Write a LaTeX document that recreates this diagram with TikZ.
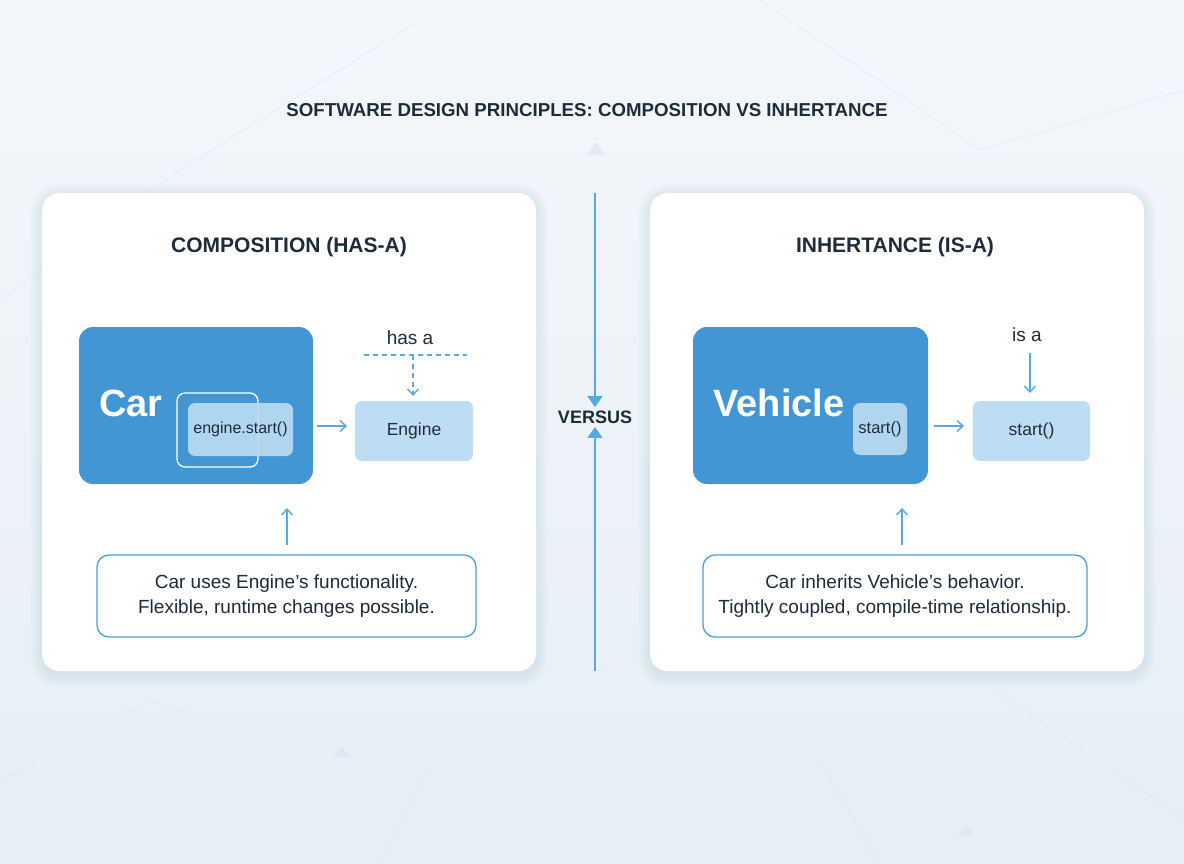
\documentclass[tikz,border=0pt]{standalone}
\usepackage{fontspec}
\setmainfont{Liberation Sans}
\usetikzlibrary{arrows.meta}
\definecolor{bgA}{HTML}{F4F7FA}
\definecolor{bgB}{HTML}{E6EEF6}
\definecolor{ink}{HTML}{1E2B3A}
\definecolor{mainblue}{HTML}{4296D3}
\definecolor{lightbox}{HTML}{BCDDF3}
\definecolor{arrowblue}{HTML}{5AA8E0}
\definecolor{edgeblue}{HTML}{4A9FE0}
\definecolor{deco}{HTML}{DCE6F0}
\definecolor{shadowc}{HTML}{8A9BB0}
\tikzset{
  panel/.style={draw=none, fill=white, rounded corners=18pt},
  bigbox/.style={draw=none, fill=mainblue, rounded corners=14pt},
  lbox/.style={draw=none, fill=lightbox, rounded corners=7pt, text=ink, font=\fontsize{17.5}{20}\selectfont},
  ibox/.style={draw=none, fill=lightbox, fill opacity=0.9, text opacity=1, rounded corners=7pt, text=ink, font=\fontsize{16}{19}\selectfont},
  capbox/.style={draw=edgeblue, line width=1.3pt, fill=white, rounded corners=12pt, text=ink, align=center, font=\fontsize{19}{25}\selectfont},
  conn/.style={draw=arrowblue, line width=1.4pt, -{Straight Barb[length=6pt,width=11pt,line width=1.4pt]}},
  vsconn/.style={draw=arrowblue, line width=1.6pt, -{Triangle[length=11pt,width=15pt]}},
  heading/.style={text=ink, font=\fontsize{21}{24}\selectfont\bfseries},
  biglabel/.style={text=white, font=\fontsize{38}{44}\selectfont\bfseries},
  small/.style={text=ink, font=\fontsize{19}{22}\selectfont},
  decoline/.style={draw=deco, line width=0.8pt, opacity=0.55},
}
\begin{document}
\begin{tikzpicture}[x=1pt,y=-1pt]
\useasboundingbox (0,0) rectangle (1184,864);
% background
\shade[top color=bgA, bottom color=bgB] (0,0) rectangle (1184,864);
\draw[decoline] (0,300) -- (180,170) -- (420,20);
\draw[decoline] (760,0) -- (980,150) -- (1184,90);
\draw[decoline] (0,780) -- (150,700) -- (330,760);
\draw[decoline] (980,680) -- (1184,820);
\draw[decoline] (430,762) -- (820,762) -- (880,864);
\draw[decoline] (430,762) -- (380,864);
\fill[deco, opacity=0.7] (596,142) -- (606,155) -- (586,155) -- cycle;
\fill[deco, opacity=0.7] (342,746) -- (350,757) -- (334,757) -- cycle;
\fill[deco, opacity=0.7] (966,824) -- (974,835) -- (958,835) -- cycle;
% title
\node[text=ink, font=\fontsize{18.7}{22}\selectfont\bfseries] (title) at (587,110) {SOFTWARE DESIGN PRINCIPLES: COMPOSITION VS INHERTANCE};
% soft panel shadows
\foreach \s in {1,...,12}{
  \fill[shadowc, opacity=0.012, rounded corners={18pt+\s pt}] ({42-\s},{196-\s}) rectangle ({536+\s},{675+\s});
  \fill[shadowc, opacity=0.012, rounded corners={18pt+\s pt}] ({650-\s},{196-\s}) rectangle ({1144+\s},{675+\s});
}
% panels
\node[panel, minimum width=494pt, minimum height=478pt] (lp) at (289,432) {};
\node[panel, minimum width=494pt, minimum height=478pt] (rp) at (897,432) {};
\node[heading] (lh) at (289,247) {COMPOSITION (HAS-A)};
\node[heading] (rh) at (895,247) {INHERTANCE (IS-A)};
% ---- left: composition
\node[bigbox, minimum width=234pt, minimum height=157pt] (car) at (196,405.5) {};
\node[biglabel] (carl) at (131,403) {Car};
\node[draw=white, line width=1.3pt, rounded corners=8pt, minimum width=81pt, minimum height=74pt] (slot) at (217.5,430) {};
\node[ibox, minimum width=105pt, minimum height=53pt] (es) at (240.5,429.5) {engine.start()};
\node[lbox, minimum width=118pt, minimum height=60pt] (engine) at (414,431) {Engine};
\draw[conn] (317,426) -- (347,426);
\node[small] (hasa) at (410,338) {has a};
\coordinate (hl) at (364,355);
\coordinate (hr) at (467,355);
\coordinate (hm) at (413,355);
\draw[draw=arrowblue, line width=1.3pt, dash pattern=on 5pt off 4pt] (hl) -- (hr);
\draw[conn, dash pattern=on 5pt off 4pt] (hm) -- (413,396);
\node[capbox, minimum width=379pt, minimum height=82pt] (lcap) at (286.5,596) {Car uses Engine's functionality.\\Flexible, runtime changes possible.};
\draw[conn] (287,545) -- (287,508);
% ---- right: inheritance
\node[bigbox, minimum width=235pt, minimum height=157pt] (veh) at (810.5,405.5) {};
\node[biglabel] (vehl) at (779,403) {Vehicle};
\node[ibox, font=\fontsize{16.5}{19}\selectfont, minimum width=54pt, minimum height=52pt] (vs) at (880,429) {start()};
\node[lbox, minimum width=117pt, minimum height=60pt] (start) at (1031.5,431) {start()};
\draw[conn] (934,426) -- (964,426);
\node[small] (isa) at (1027,335) {is a};
\draw[conn] (1030,353) -- (1030,393);
\node[capbox, minimum width=384pt, minimum height=82pt] (rcap) at (895,596) {Car inherits Vehicle's behavior.\\Tightly coupled, compile-time relationship.};
\draw[conn] (902,545) -- (902,508);
% ---- center
\node[text=ink, font=\fontsize{18}{21}\selectfont\bfseries] (versus) at (595,417) {VERSUS};
\coordinate (vtop) at (595,193);
\coordinate (vbot) at (595,671);
\draw[vsconn] (vtop) -- (versus.north);
\draw[vsconn] (vbot) -- (versus.south);
\end{tikzpicture}
\end{document}
